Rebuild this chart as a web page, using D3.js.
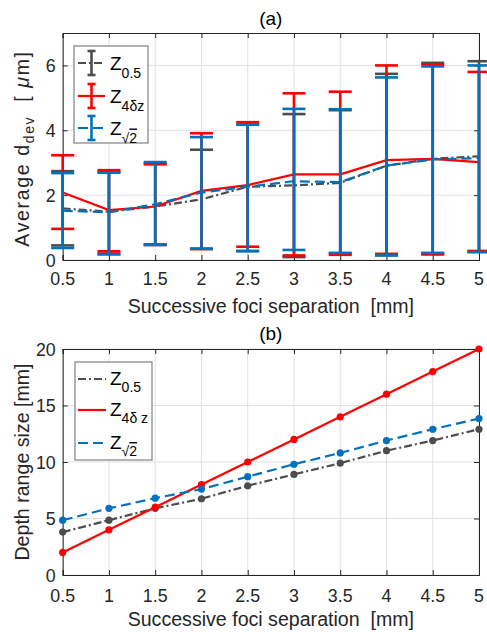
<!DOCTYPE html>
<html><head><meta charset="utf-8">
<script src="https://cdn.jsdelivr.net/npm/d3@7/dist/d3.min.js"></script>
<style>body{margin:0;background:#fff}svg{display:block;font-family:"Liberation Sans",Arial,sans-serif}</style>
</head><body><svg id="c" width="487" height="632"></svg>
<script>
const xs = [0.5,1,1.5,2,2.5,3,3.5,4,4.5,5];
// Panel (a): mean and min/max deviation
const meanZ05 = [1.59,1.49,1.65,1.87,2.26,2.30,2.38,2.91,3.12,3.20];
const upZ05   = [2.74,2.72,2.98,3.40,4.18,4.50,4.62,5.74,6.08,6.13];
const loZ05   = [0.45,0.20,0.46,0.34,0.28,0.09,0.20,0.15,0.20,0.28];
const meanZ4 = [2.08,1.54,1.65,2.13,2.31,2.64,2.64,3.08,3.12,3.02];
const upZ4   = [3.23,2.77,2.95,3.91,4.25,5.14,5.19,6.00,6.03,5.80];
const loZ4   = [0.96,0.27,0.48,0.34,0.41,0.14,0.16,0.19,0.17,0.26];
const meanZs = [1.52,1.47,1.72,2.08,2.26,2.43,2.40,2.91,3.10,3.14];
const upZs   = [2.68,2.69,3.02,3.79,4.17,4.66,4.65,5.63,5.97,6.00];
const loZs   = [0.37,0.17,0.47,0.35,0.27,0.31,0.22,0.14,0.22,0.24];
// Panel (b): depth range size
const depZ05 = [3.8,4.85,5.9,6.75,7.9,8.9,9.9,11.0,11.9,12.9];
const depZ4  = [2,4,6,8,10,12,14,16,18,20];
const depZs  = [4.85,5.9,6.8,7.6,8.7,9.8,10.8,11.9,12.9,13.85];
const xTicks = [0.5,1,1.5,2,2.5,3,3.5,4,4.5,5];
const yTicksA = [0,2,4,6];
const yTicksB = [0,5,10,15,20];

const svg = d3.select("#c");
const AX = "#262626", GRID = "#e1e1e1";
const C = {g:"#4d4d4d", r:"#ff0000", b:"#0072bd"};
const DASH = {g:"8,3,2,3", r:null, b:"10,5"};
const TICKF = 17.8, LABF = 19.6;

function panel(top, bottom, ydom, yticks, title, titleY, tickY, labelY, ylabelFn){
  const x = d3.scaleLinear().domain([0.5,5]).range([62.7,479]);
  const y = d3.scaleLinear().domain(ydom).range([bottom, top]);
  const g = svg.append("g");
  g.selectAll(".gx").data(xTicks).join("line").attr("x1",d=>x(d)).attr("x2",d=>x(d))
    .attr("y1",top).attr("y2",bottom).attr("stroke",GRID).attr("stroke-width",1);
  g.selectAll(".gy").data(yticks).join("line").attr("y1",d=>y(d)).attr("y2",d=>y(d))
    .attr("x1",x(0.5)).attr("x2",x(5)).attr("stroke",GRID).attr("stroke-width",1);
  const xa = g.append("g").attr("transform",`translate(0,${bottom})`)
    .call(d3.axisBottom(x).tickValues(xTicks).tickSize(-5).tickFormat(""));
  const xt = g.append("g").attr("transform",`translate(0,${top})`)
    .call(d3.axisTop(x).tickValues(xTicks).tickSize(-5).tickFormat(""));
  const ya = g.append("g").attr("transform",`translate(${x(0.5)},0)`)
    .call(d3.axisLeft(y).tickValues(yticks).tickSize(-5).tickFormat(""));
  const yr = g.append("g").attr("transform",`translate(${x(5)},0)`)
    .call(d3.axisRight(y).tickValues(yticks).tickSize(-5).tickFormat(""));
  [xa,xt,ya,yr].forEach(a=>{a.selectAll("path,line").attr("stroke",AX).attr("stroke-width",1);});
  g.selectAll(".xl").data(xTicks).join("text").attr("x",d=>x(d)).attr("y",tickY)
    .attr("text-anchor","middle").attr("font-size",TICKF).attr("fill",AX).text(d=>d);
  g.selectAll(".yl").data(yticks).join("text").attr("x",x(0.5)-7).attr("y",d=>y(d)+6.5)
    .attr("text-anchor","end").attr("font-size",TICKF).attr("fill",AX).text(d=>d);
  g.append("text").attr("x",(x(0.5)+x(5))/2).attr("y",titleY).attr("text-anchor","middle")
    .attr("font-size",19).attr("fill","#000").text(title);
  g.append("text").attr("x",(x(0.5)+x(5))/2).attr("y",labelY).attr("text-anchor","middle")
    .attr("font-size",LABF).attr("fill",AX).style("white-space","pre")
    .text("Successive foci separation  [mm]");
  ylabelFn(g, (top+bottom)/2);
  return {x,y,g};
}

// Panel (a)
const A = panel(33, 260, [0,7], yTicksA, "(a)", 24.5, 285, 313, (g,cy)=>{
  const t = g.append("text").attr("transform",`translate(29,${cy+2}) rotate(-90)`)
    .attr("text-anchor","middle").attr("font-size",LABF).attr("fill",AX)
    .style("white-space","pre").attr("letter-spacing",1.6);
  t.append("tspan").text("Average d");
  t.append("tspan").attr("font-size",14).attr("dy",5).text("dev");
  t.append("tspan").attr("dy",-5).text("  [ ");
  t.append("tspan").attr("font-style","italic").text("\u03bc");
  t.append("tspan").text("m]");
});
const seriesA = [
  {k:"g", mean:meanZ05, up:upZ05, lo:loZ05},
  {k:"r", mean:meanZ4, up:upZ4, lo:loZ4},
  {k:"b", mean:meanZs, up:upZs, lo:loZs}
];
seriesA.forEach(s=>{
  const gg = A.g.append("g");
  const bars = gg.selectAll(".eb").data(xs.map((v,i)=>({x:v,up:s.up[i],lo:s.lo[i]}))).join("g");
  bars.append("line").attr("x1",d=>A.x(d.x)).attr("x2",d=>A.x(d.x)).attr("y1",d=>A.y(d.lo)).attr("y2",d=>A.y(d.up))
    .attr("stroke",C[s.k]).attr("stroke-width",2.6);
  ["up","lo"].forEach(f=>{
    bars.append("line").attr("x1",d=>A.x(d.x)-11.5).attr("x2",d=>A.x(d.x)+11.5)
      .attr("y1",d=>A.y(d[f])).attr("y2",d=>A.y(d[f])).attr("stroke",C[s.k]).attr("stroke-width",2.6);
  });
  gg.append("path").datum(xs.map((v,i)=>[v,s.mean[i]]))
    .attr("d",d3.line().x(d=>A.x(d[0])).y(d=>A.y(d[1])))
    .attr("fill","none").attr("stroke",C[s.k]).attr("stroke-width",2.2)
    .attr("stroke-dasharray",DASH[s.k]);
});
function legendLabel(L, x, y, sub, dy){
  const t = L.append("text").attr("x",x).attr("y",y).attr("font-size",19).attr("fill","#000")
    .style("white-space","pre");
  t.append("tspan").text("Z");
  if (sub === "sqrt") {
    t.append("tspan").attr("font-size",14).attr("dy",dy).text("\u221a");
    t.append("tspan").attr("font-size",14).attr("text-decoration","overline").text("2");
  } else {
    t.append("tspan").attr("font-size",14).attr("dy",dy).text(sub);
  }
}
// legend (a)
(function(){
  const L = A.g.append("g");
  L.append("rect").attr("x",74).attr("y",46).attr("width",74).attr("height",97)
    .attr("fill","#fff").attr("stroke","#808080").attr("stroke-width",1.2);
  const items = [{k:"g",sub:"0.5",cy:63},{k:"r",sub:"4\u03b4z",cy:96},{k:"b",sub:"sqrt",cy:128}];
  items.forEach(it=>{
    L.append("line").attr("x1",78).attr("x2",105).attr("y1",it.cy).attr("y2",it.cy)
      .attr("stroke",C[it.k]).attr("stroke-width",2.2).attr("stroke-dasharray",DASH[it.k]);
    L.append("line").attr("x1",91.5).attr("x2",91.5).attr("y1",it.cy-12).attr("y2",it.cy+12)
      .attr("stroke",C[it.k]).attr("stroke-width",2.6);
    [-12,12].forEach(o=>L.append("line").attr("x1",87.5).attr("x2",95.5).attr("y1",it.cy+o).attr("y2",it.cy+o)
      .attr("stroke",C[it.k]).attr("stroke-width",2.6));
    legendLabel(L, 110, it.cy+7, it.sub, 7.5);
  });
})();

// Panel (b)
const B = panel(349, 575, [0,20], yTicksB, "(b)", 339.5, 602, 626, (g,cy)=>{
  g.append("text").attr("transform",`translate(29,${cy}) rotate(-90)`)
    .attr("text-anchor","middle").attr("font-size",LABF).attr("fill",AX).text("Depth range size [mm]");
});
const seriesB = [{k:"g",v:depZ05},{k:"r",v:depZ4},{k:"b",v:depZs}];
seriesB.forEach(s=>{
  const pts = xs.map((v,i)=>[v,s.v[i]]);
  B.g.append("path").datum(pts).attr("d",d3.line().x(d=>B.x(d[0])).y(d=>B.y(d[1])))
    .attr("fill","none").attr("stroke",C[s.k]).attr("stroke-width",2.2).attr("stroke-dasharray",DASH[s.k]);
  B.g.selectAll(null).data(pts).join("circle").attr("cx",d=>B.x(d[0])).attr("cy",d=>B.y(d[1]))
    .attr("r",3.6).attr("fill",C[s.k]);
});
(function(){
  const L = B.g.append("g");
  L.append("rect").attr("x",75).attr("y",362).attr("width",77).attr("height",98)
    .attr("fill","#fff").attr("stroke","#808080").attr("stroke-width",1.2);
  const items = [{k:"g",sub:"0.5",cy:379},{k:"r",sub:"4\u03b4 z",cy:410},{k:"b",sub:"sqrt",cy:443}];
  items.forEach(it=>{
    L.append("line").attr("x1",78).attr("x2",106).attr("y1",it.cy).attr("y2",it.cy)
      .attr("stroke",C[it.k]).attr("stroke-width",2.2).attr("stroke-dasharray",DASH[it.k]);
    legendLabel(L, 110, it.cy+6, it.sub, 7);
  });
})();
</script></body></html>
